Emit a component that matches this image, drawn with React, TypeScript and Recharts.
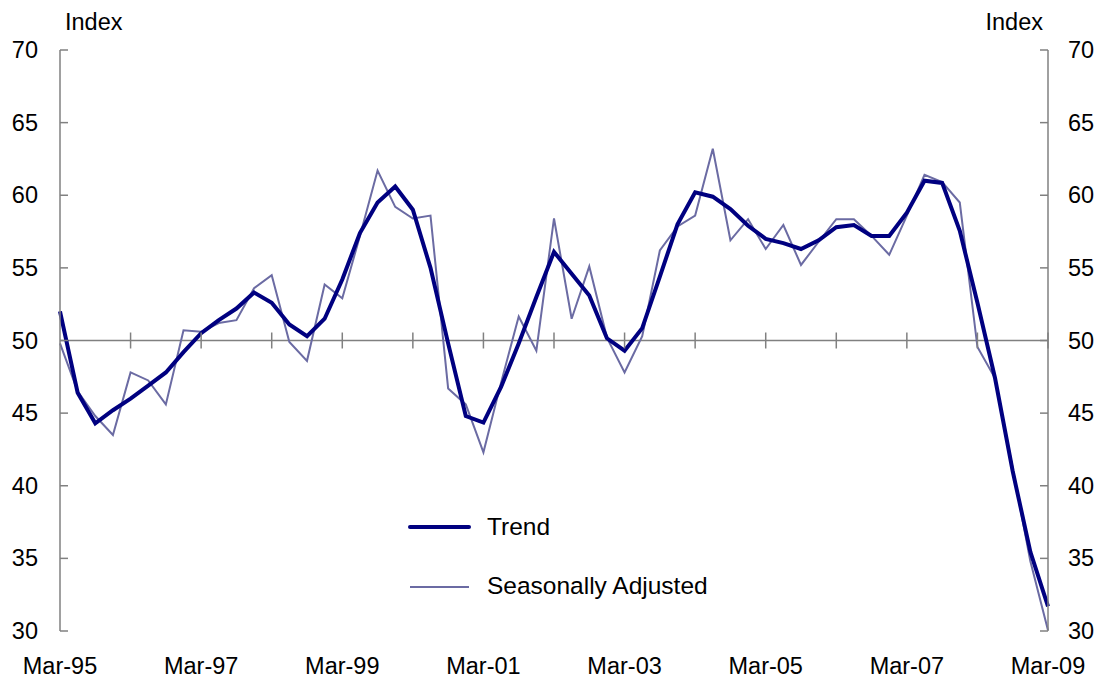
import {
  Legend,
  Line,
  LineChart,
  ReferenceDot,
  ReferenceLine,
  XAxis,
  YAxis
} from 'recharts'

const quarters = [
  'Mar-95', 'Jun-95', 'Sep-95', 'Dec-95',
  'Mar-96', 'Jun-96', 'Sep-96', 'Dec-96',
  'Mar-97', 'Jun-97', 'Sep-97', 'Dec-97',
  'Mar-98', 'Jun-98', 'Sep-98', 'Dec-98',
  'Mar-99', 'Jun-99', 'Sep-99', 'Dec-99',
  'Mar-00', 'Jun-00', 'Sep-00', 'Dec-00',
  'Mar-01', 'Jun-01', 'Sep-01', 'Dec-01',
  'Mar-02', 'Jun-02', 'Sep-02', 'Dec-02',
  'Mar-03', 'Jun-03', 'Sep-03', 'Dec-03',
  'Mar-04', 'Jun-04', 'Sep-04', 'Dec-04',
  'Mar-05', 'Jun-05', 'Sep-05', 'Dec-05',
  'Mar-06', 'Jun-06', 'Sep-06', 'Dec-06',
  'Mar-07', 'Jun-07', 'Sep-07', 'Dec-07',
  'Mar-08', 'Jun-08', 'Sep-08', 'Dec-08',
  'Mar-09'
]

const trend = [
  52.0, 46.4, 44.3, 45.2,
  46.0, 46.9, 47.8, 49.2,
  50.5, 51.4, 52.2, 53.3,
  52.6, 51.1, 50.3, 51.5,
  54.2, 57.4, 59.5, 60.6,
  59.0, 55.0, 49.8, 44.8,
  44.35, 46.8, 49.8, 53.0,
  56.1, 54.6, 53.1, 50.15,
  49.3, 50.85, 54.4, 58.0,
  60.2, 59.9, 59.05, 57.9,
  57.0, 56.7, 56.3, 56.9,
  57.8, 57.95, 57.2, 57.2,
  58.8, 61.0, 60.85, 57.55,
  52.6, 47.4, 41.0, 35.45,
  31.7
]

const seasonallyAdjusted = [
  49.8, 46.5, 44.8, 43.5,
  47.8, 47.25, 45.6, 50.7,
  50.6, 51.2, 51.4, 53.6,
  54.5, 49.9, 48.6, 53.85,
  52.9, 57.2, 61.7, 59.2,
  58.4, 58.6, 46.7, 45.6,
  42.3, 47.1, 51.65, 49.3,
  58.4, 51.5, 55.1, 50.2,
  47.8, 50.3, 56.2, 57.85,
  58.6, 63.2, 56.9, 58.35,
  56.3, 57.95, 55.2, 56.8,
  58.35, 58.35, 57.2, 55.9,
  58.6, 61.4, 60.9, 59.5,
  49.55, 47.4, 41.2, 34.8,
  30.05
]

const xLabels = [
  'Mar-95', 'Mar-97', 'Mar-99', 'Mar-01', 'Mar-03', 'Mar-05', 'Mar-07', 'Mar-09'
]

const yearTicks = [
  'Mar-96', 'Mar-97', 'Mar-98', 'Mar-99', 'Mar-00', 'Mar-01', 'Mar-02',
  'Mar-03', 'Mar-04', 'Mar-05', 'Mar-06', 'Mar-07', 'Mar-08', 'Mar-09'
]

const yTicks = [30, 35, 40, 45, 50, 55, 60, 65, 70]

const data = quarters.map((q, i) => ({
  q,
  trend: trend[i],
  sa: seasonallyAdjusted[i]
}))

const FONT = '"Liberation Sans", Arial, sans-serif'
const AXIS = '#808080'
const TREND = '#000080'
const SA = '#6b6ba3'
const FS = 23.5

function LeftTick({ x, y, payload }: any) {
  return (
    <g>
      <line x1={x} x2={x + 8} y1={y} y2={y} stroke={AXIS} strokeWidth={1.5} />
      <text x={x - 22} y={y + 8} textAnchor='end' fontSize={FS} fontFamily={FONT} fill='#000'>
        {payload.value}
      </text>
    </g>
  )
}

function RightTick({ x, y, payload }: any) {
  return (
    <g>
      <line x1={x - 8} x2={x} y1={y} y2={y} stroke={AXIS} strokeWidth={1.5} />
      <text x={x + 20} y={y + 8} textAnchor='start' fontSize={FS} fontFamily={FONT} fill='#000'>
        {payload.value}
      </text>
    </g>
  )
}

function BottomTick({ x, y, payload }: any) {
  return (
    <text x={x} y={y + 43} textAnchor='middle' fontSize={FS} fontFamily={FONT} fill='#000'>
      {payload.value}
    </text>
  )
}

function YearMark({ cx, cy }: any) {
  return <line x1={cx} x2={cx} y1={cy - 8} y2={cy + 8} stroke={AXIS} strokeWidth={1.5} />
}

function renderLegend() {
  return (
    <svg width={340} height={100} style={{ display: 'block' }}>
      <line x1={5} x2={64} y1={23} y2={23} stroke={TREND} strokeWidth={4} strokeLinecap='round' />
      <text x={82} y={31} fontSize={24.5} fontFamily={FONT} fill='#000'>Trend</text>
      <line x1={5} x2={64} y1={83} y2={83} stroke={SA} strokeWidth={2} />
      <text x={82} y={90} fontSize={24.5} fontFamily={FONT} fill='#000'>Seasonally Adjusted</text>
    </svg>
  )
}

export default function App() {
  return (
    <div style={{ position: 'absolute', left: 0, top: 0, fontFamily: FONT }}>
      <LineChart
        width={1100}
        height={679}
        data={data}
        margin={{ top: 50, right: 51, bottom: 47, left: 59 }}
      >
        <XAxis
          dataKey='q'
          ticks={xLabels}
          interval={0}
          height={1}
          axisLine={false}
          tickLine={false}
          tickSize={0}
          tickMargin={0}
          tick={<BottomTick />}
        />
        <YAxis
          yAxisId='left'
          orientation='left'
          domain={[30, 70]}
          ticks={yTicks}
          interval={0}
          width={1}
          tickSize={0}
          tickMargin={0}
          tickLine={false}
          axisLine={{ stroke: AXIS, strokeWidth: 1.5 }}
          tick={<LeftTick />}
          label={{
            content: ({ viewBox }: any) => (
              <text x={viewBox.x + viewBox.width + 5} y={viewBox.y - 20} fontSize={FS} fontFamily={FONT} fill='#000'>
                Index
              </text>
            )
          }}
        />
        <YAxis
          yAxisId='right'
          orientation='right'
          domain={[30, 70]}
          ticks={yTicks}
          interval={0}
          width={1}
          tickSize={0}
          tickMargin={0}
          tickLine={false}
          axisLine={{ stroke: AXIS, strokeWidth: 1.5 }}
          tick={<RightTick />}
          label={{
            content: ({ viewBox }: any) => (
              <text x={viewBox.x - 5} y={viewBox.y - 20} textAnchor='end' fontSize={FS} fontFamily={FONT} fill='#000'>
                Index
              </text>
            )
          }}
        />
        <ReferenceLine yAxisId='left' y={50} stroke={AXIS} strokeWidth={1.5} />
        {yearTicks.map((t) => (
          <ReferenceDot
            key={t}
            yAxisId='left'
            x={t}
            y={50}
            shape={<YearMark />}
          />
        ))}
        <Line
          yAxisId='right'
          type='linear'
          dataKey='sa'
          name='Seasonally Adjusted'
          stroke={SA}
          strokeWidth={2}
          dot={false}
          isAnimationActive={false}
        />
        <Line
          yAxisId='left'
          type='linear'
          dataKey='trend'
          name='Trend'
          stroke={TREND}
          strokeWidth={4}
          dot={false}
          isAnimationActive={false}
        />
        <Legend
          layout='vertical'
          align='center'
          verticalAlign='middle'
          content={renderLegend}
          wrapperStyle={{ left: 405, top: 504, width: 340 }}
        />
      </LineChart>
    </div>
  )
}
